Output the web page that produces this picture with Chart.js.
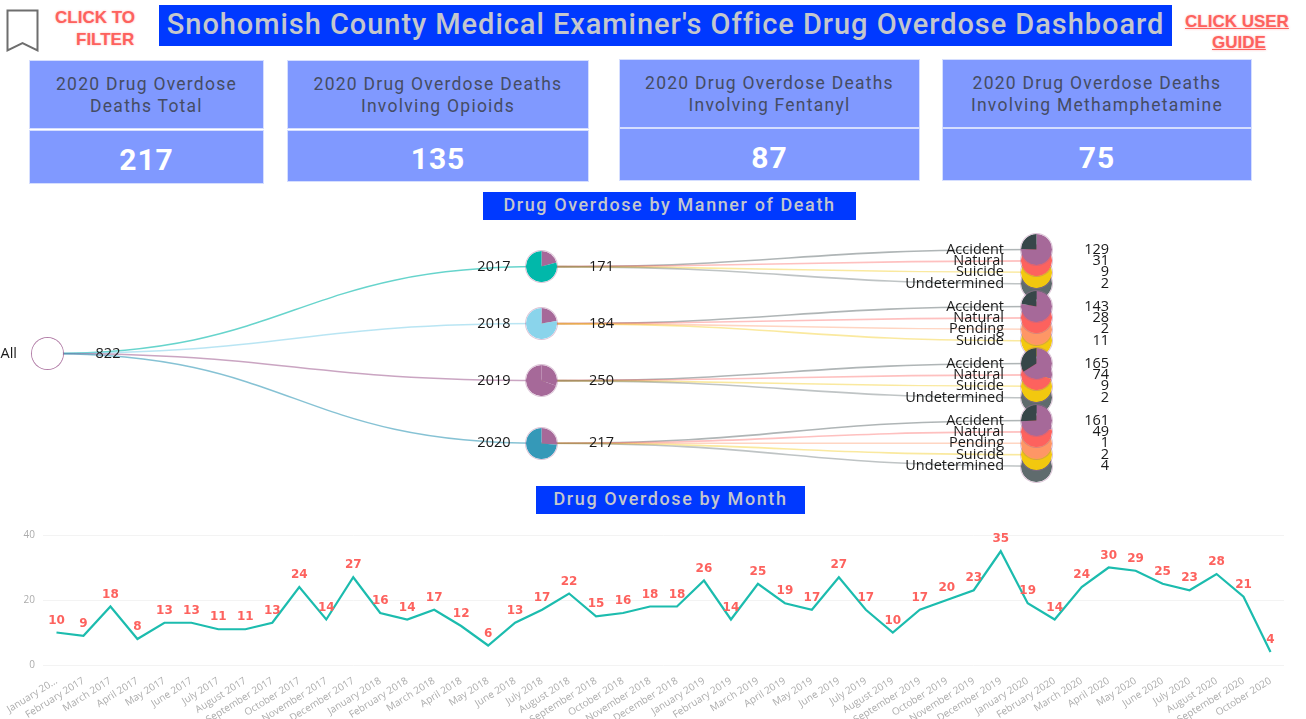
<!DOCTYPE html>
<html>
<head>
<meta charset="utf-8">
<title>Snohomish County Drug Overdose Dashboard</title>
<script src="https://cdn.jsdelivr.net/npm/chart.js@4"></script>
<style>
  html, body { margin: 0; padding: 0; background: #fff; }
  body { position: relative; width: 1306px; height: 719px; overflow: hidden; font-family: Roboto, sans-serif; }
  .abs { position: absolute; box-sizing: border-box; }
  .banner { background: #0039ff; color: #c4c7cc; display: flex; align-items: center; justify-content: center; white-space: nowrap; font-weight: 500; }
  .link { color: #fd625e; font: bold 17px "Liberation Sans", sans-serif; text-shadow: 0 0 2px rgba(253,98,94,.5); white-space: nowrap; }
  .card { background: #8099ff; box-shadow: 0 0 0 1px #d5deff; display: flex; align-items: center; justify-content: center; text-align: center; }
  .card.head { color: #454c63; font-size: 17.5px; line-height: 22px; letter-spacing: 1.25px; }
  .card.num { color: #fff; font-size: 30px; font-weight: 700; letter-spacing: 1px; padding-top: 5px; }
  canvas { position: absolute; display: block; }
  canvas.pie { border-radius: 50%; box-shadow: 0 0 0 1px rgba(166,105,153,.4); }
  canvas.pie.hollow { box-shadow: 0 0 0 1px rgba(166,105,153,.85); }
</style>
</head>
<body>
<svg class="abs" style="left:5px;top:8px" width="36" height="46" viewBox="0 0 36 46">
  <path d="M2.5 2.5H32.5V42.5L17.5 35L2.5 42.5Z" fill="none" stroke="#6e6e6e" stroke-width="2"/>
</svg>
<div class="abs link" style="left:55px;top:8px">CLICK TO</div>
<div class="abs link" style="left:76px;top:30px">FILTER</div>
<div class="abs banner" style="left:159px;top:5px;width:1013px;height:41px;padding-bottom:3px;font-size:29px;letter-spacing:.95px">Snohomish County Medical Examiner's Office Drug Overdose Dashboard</div>
<div class="abs link" style="left:1185px;top:12px;text-decoration:underline">CLICK USER</div>
<div class="abs link" style="left:1212px;top:33px;text-decoration:underline">GUIDE</div>
<div class="abs banner" style="left:483px;top:192px;width:373px;height:28px;padding-bottom:3px;font-size:18px;letter-spacing:1.6px">Drug Overdose by Manner of Death</div>
<div class="abs banner" style="left:536px;top:486px;width:269px;height:28px;padding-bottom:3px;font-size:18px;letter-spacing:1.6px">Drug Overdose by Month</div>
<div id="cards"></div>
<canvas id="tree" width="1306" height="250" style="left:0;top:230px"></canvas>
<div id="pies"></div>
<canvas id="months" width="1306" height="198" style="left:0;top:521px"></canvas>

<script>
// KPI cards
const cardTitles = [
  ['2020 Drug Overdose', 'Deaths Total'],
  ['2020 Drug Overdose Deaths', 'Involving Opioids'],
  ['2020 Drug Overdose Deaths', 'Involving Fentanyl'],
  ['2020 Drug Overdose Deaths', 'Involving Methamphetamine']
];
const cardValues = [217, 135, 87, 75];

// decomposition tree
const years = ['2017', '2018', '2019', '2020'];
const yearTotals = [171, 184, 250, 217];
const yearColors = ['#01b8aa', '#8ad4eb', '#a66999', '#3599b8'];
const mannerNames = [
  ['Accident', 'Natural', 'Suicide', 'Undetermined'],
  ['Accident', 'Natural', 'Pending', 'Suicide'],
  ['Accident', 'Natural', 'Suicide', 'Undetermined'],
  ['Accident', 'Natural', 'Pending', 'Suicide', 'Undetermined']
];
const mannerCounts = [
  [129, 31, 9, 2],
  [143, 28, 2, 11],
  [165, 74, 9, 2],
  [161, 49, 1, 2, 4]
];
const mannerColors = { Accident: '#374649', Natural: '#fd625e', Pending: '#fe9666', Suicide: '#f2c80f', Undetermined: '#5f6b6d' };
const highlight = '#a66999';

// monthly line
const monthLabels = ['January 20...', 'February 2017', 'March 2017', 'April 2017', 'May 2017', 'June 2017', 'July 2017', 'August 2017', 'September 2017', 'October 2017', 'November 2017', 'December 2017',
  'January 2018', 'February 2018', 'March 2018', 'April 2018', 'May 2018', 'June 2018', 'July 2018', 'August 2018', 'September 2018', 'October 2018', 'November 2018', 'December 2018',
  'January 2019', 'February 2019', 'March 2019', 'April 2019', 'May 2019', 'June 2019', 'July 2019', 'August 2019', 'September 2019', 'October 2019', 'November 2019', 'December 2019',
  'January 2020', 'February 2020', 'March 2020', 'April 2020', 'May 2020', 'June 2020', 'July 2020', 'August 2020', 'September 2020', 'October 2020'];
const monthCounts = [10, 9, 18, 8, 13, 13, 11, 11, 13, 24, 14, 27,
  16, 14, 17, 12, 6, 13, 17, 22, 15, 16, 18, 18,
  26, 14, 25, 19, 17, 27, 17, 10, 17, 20, 23, 35,
  19, 14, 24, 30, 29, 25, 23, 28, 21, 4];

// cards positions: left, width, head top, head height, value top, value height
const cardBoxes = [[30, 233, 61, 67, 131, 52], [288, 300, 61, 67, 131, 50], [620, 299, 60, 67, 129, 51], [943, 308, 60, 67, 129, 51]];
const cards = document.getElementById('cards');
cardBoxes.forEach((b, i) => {
  cards.insertAdjacentHTML('beforeend',
    `<div class="abs card head" style="left:${b[0]}px;top:${b[2]}px;width:${b[1]}px;height:${b[3]}px"><div>${cardTitles[i].join('<br>')}</div></div>` +
    `<div class="abs card num" style="left:${b[0]}px;top:${b[4]}px;width:${b[1]}px;height:${b[5]}px">${cardValues[i]}</div>`);
});

// rows: each leaf sits on its own row, a gap row between years; parents sit at the mean of their children
const mean = a => a.reduce((s, v) => s + v, 0) / a.length;
let row = 0;
const leafRows = mannerNames.map(names => {
  const rows = names.map(() => row++);
  row++;
  return rows;
});
const yearRows = leafRows.map(mean);
const allRow = mean(yearRows);
const grandTotal = yearTotals.reduce((s, v) => s + v, 0);

const treeLabelFont = '14.5px "Open Sans", sans-serif';

function curve(ctx, x0, y0, x1, y1, color, width) {
  const mx = (x0 + x1) / 2;
  ctx.beginPath();
  ctx.moveTo(x0, y0);
  ctx.bezierCurveTo(mx, y0, mx, y1, x1, y1);
  ctx.strokeStyle = color;
  ctx.lineWidth = width;
  ctx.stroke();
}

const treePlugin = {
  id: 'treePlugin',
  beforeDatasetsDraw(chart) {
    const { ctx, scales: { x, y } } = chart;
    ctx.save();
    years.forEach((yr, i) => {
      curve(ctx, x.getPixelForValue(0), y.getPixelForValue(allRow), x.getPixelForValue(1), y.getPixelForValue(yearRows[i]), yearColors[i] + '99', 1.5);
      mannerNames[i].forEach((m, j) => {
        curve(ctx, x.getPixelForValue(1), y.getPixelForValue(yearRows[i]), x.getPixelForValue(2), y.getPixelForValue(leafRows[i][j]), mannerColors[m] + '66', 1.6);
      });
    });
    ctx.restore();
  },
  afterDatasetsDraw(chart) {
    const { ctx, scales: { x, y } } = chart;
    ctx.save();
    ctx.font = treeLabelFont;
    ctx.fillStyle = '#1a1a1a';
    ctx.textBaseline = 'middle';
    const text = (t, px, py, align) => { ctx.textAlign = align; ctx.fillText(t, px, py); };
    text('All', x.getPixelForValue(0) - 30, y.getPixelForValue(allRow), 'right');
    text(String(grandTotal), x.getPixelForValue(0) + 61, y.getPixelForValue(allRow), 'center');
    years.forEach((yr, i) => {
      const py = y.getPixelForValue(yearRows[i]);
      text(yr, x.getPixelForValue(1) - 31, py, 'right');
      text(String(yearTotals[i]), x.getPixelForValue(1) + 60, py, 'center');
      mannerNames[i].forEach((m, j) => {
        const ly = y.getPixelForValue(leafRows[i][j]);
        text(m, x.getPixelForValue(2) - 32, ly, 'right');
        text(String(mannerCounts[i][j]), x.getPixelForValue(2) + 73, ly, 'right');
      });
    });
    ctx.restore();
  }
};

const treeChart = new Chart(document.getElementById('tree'), {
  type: 'scatter',
  data: {
    datasets: [{
      data: [{ x: 0, y: allRow }]
        .concat(yearRows.map(r => ({ x: 1, y: r })))
        .concat(leafRows.flat().map(r => ({ x: 2, y: r }))),
      pointRadius: 0
    }]
  },
  options: {
    responsive: false,
    animation: false,
    events: [],
    layout: { padding: 0 },
    plugins: { legend: { display: false }, tooltip: { enabled: false } },
    scales: {
      x: { type: 'linear', display: false, min: -47 / 494.5, max: 1259 / 494.5 },
      y: { type: 'linear', display: false, reverse: true, min: -19.5 / 11.4, max: 230.5 / 11.4 }
    }
  },
  plugins: [treePlugin]
});

// one small pie per node, placed with the tree chart's scales
const pieHolder = document.getElementById('pies');
const pieSize = 31;
function addPie(level, nodeRow, part, whole, color, z, hollow) {
  const c = document.createElement('canvas');
  c.className = hollow ? 'pie hollow' : 'pie';
  c.width = pieSize;
  c.height = pieSize;
  const cx = treeChart.scales.x.getPixelForValue(level);
  const cy = treeChart.scales.y.getPixelForValue(nodeRow) + 230;
  c.style.left = (cx - pieSize / 2) + 'px';
  c.style.top = (cy - pieSize / 2) + 'px';
  c.style.zIndex = z;
  pieHolder.appendChild(c);
  new Chart(c, {
    type: 'pie',
    data: { datasets: [{ data: [part, whole - part], backgroundColor: [hollow ? '#ffffff' : highlight, color], borderWidth: 0 }] },
    options: { responsive: false, animation: false, events: [], plugins: { legend: { display: false }, tooltip: { enabled: false } } }
  });
}
addPie(0, allRow, grandTotal, grandTotal, '#ffffff', 1, true);
years.forEach((yr, i) => {
  addPie(1, yearRows[i], yearTotals[i], grandTotal, yearColors[i], 1);
  mannerNames[i].forEach((m, j) => {
    addPie(2, leafRows[i][j], mannerCounts[i][j], yearTotals[i], mannerColors[m], i * 10 + 9 - j);
  });
});

// data labels above each month
const pointLabels = {
  id: 'pointLabels',
  afterDatasetsDraw(chart) {
    const { ctx } = chart;
    ctx.save();
    ctx.font = 'bold 12px "DejaVu Sans", sans-serif';
    ctx.fillStyle = '#fd625e';
    ctx.textAlign = 'center';
    ctx.textBaseline = 'middle';
    chart.getDatasetMeta(0).data.forEach((pt, i) => {
      ctx.fillText(String(monthCounts[i]), pt.x, pt.y - 12);
    });
    ctx.restore();
  }
};

new Chart(document.getElementById('months'), {
  type: 'line',
  data: {
    labels: monthLabels,
    datasets: [{ data: monthCounts, borderColor: '#1cbcae', borderWidth: 2.2, pointRadius: 0, tension: 0, fill: false }]
  },
  options: {
    responsive: false,
    animation: false,
    events: [],
    layout: { padding: { top: 3, right: 22, left: 0, bottom: 0 } },
    plugins: { legend: { display: false }, tooltip: { enabled: false } },
    scales: {
      x: {
        offset: true,
        border: { display: false },
        grid: { display: false },
        afterFit(scale) { scale.height = 54; },
        ticks: { autoSkip: false, maxRotation: 32, minRotation: 32, padding: 2, color: '#acacac', font: { family: 'Open Sans', size: 10 } }
      },
      y: {
        min: 0,
        max: 40,
        border: { display: false },
        afterFit(scale) { scale.width = 43; },
        grid: { color: '#f3f3f3', drawTicks: false },
        ticks: { stepSize: 20, padding: 8, color: '#acacac', font: { family: 'Open Sans', size: 10 } }
      }
    }
  },
  plugins: [pointLabels]
});
</script>
</body>
</html>
